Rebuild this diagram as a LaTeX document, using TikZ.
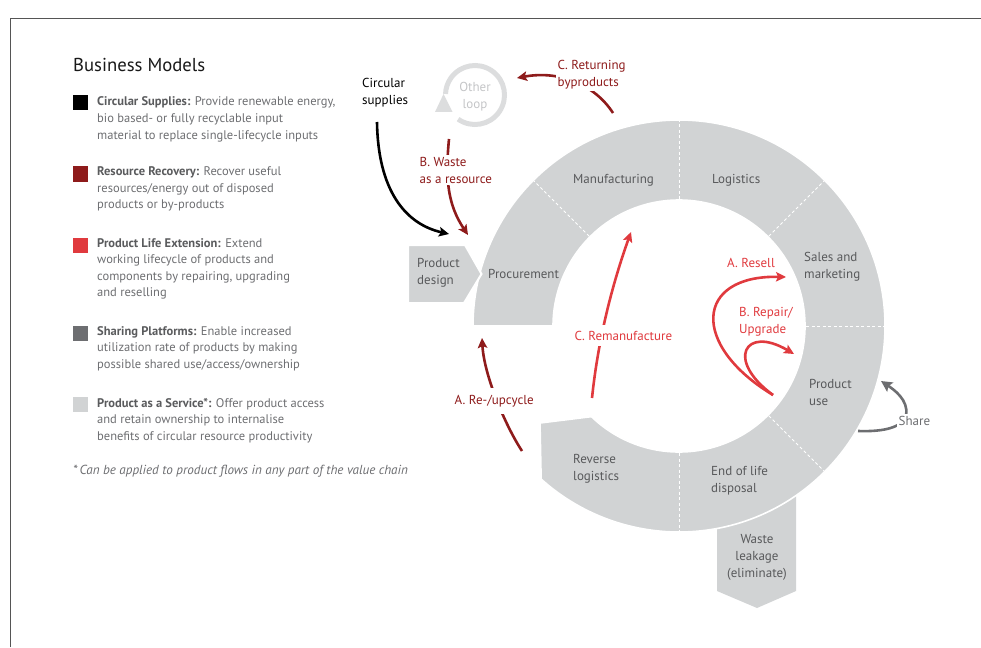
\documentclass[tikz,border=0pt]{standalone}
\usepackage{fontspec}
\setmainfont{PT Sans}
\usetikzlibrary{arrows.meta}

\definecolor{ringgray}{HTML}{D1D3D4}
\definecolor{textgray}{HTML}{58595B}
\definecolor{leggray}{HTML}{6D6E71}
\definecolor{leghead}{HTML}{5A5B5D}
\definecolor{rrdark}{HTML}{8E1B1B}
\definecolor{plered}{HTML}{E03A3E}
\definecolor{sharegray}{HTML}{6D6E71}
\definecolor{loopgray}{HTML}{DCDDDE}
\definecolor{looptext}{HTML}{C4C5C7}
\definecolor{framegray}{HTML}{555555}

\begin{document}
% multi-line nodes are placed by the baseline of their last line
\begin{tikzpicture}[x=1pt, y=-1pt,
  flow/.style={line width=2.6pt, -{Stealth[length=10pt,width=9.5pt,inset=2pt]}},
  ringlabel/.style={font=\fontsize{13}{17}\selectfont, text=textgray, align=left, inner sep=0pt, anchor=base west},
  legtext/.style={font=\fontsize{12.5}{16.6}\selectfont, text=leggray, align=left, inner sep=0pt, anchor=base west},
  legsq/.style={minimum size=15pt, inner sep=0pt, outer sep=0pt},
  flowlabel/.style={font=\fontsize{13}{17}\selectfont, align=left, fill=white, inner sep=1.5pt, anchor=base west},
]
\useasboundingbox (0,0) rectangle (981,647);

% frame
\draw[framegray, line width=1.5pt] (10.5,647) -- (10.5,18.5) -- (981,18.5);

% ---------------- legend ----------------
\node[anchor=base west, inner sep=0pt, font=\fontsize{18.7}{22}\selectfont, text=black!90] (title) at (73,72) {Business Models};

\node[legsq, fill=black]     (sq1) at (80.5,103) {};
\node[legsq, fill=rrdark]    (sq2) at (80.5,174) {};
\node[legsq, fill=plered]    (sq3) at (80.5,245.5) {};
\node[legsq, fill=sharegray] (sq4) at (80.5,333) {};
\node[legsq, fill=ringgray]  (sq5) at (80.5,404.5) {};

\node[legtext] (lg1) at (97,139.2) {\textcolor{leghead}{\bfseries Circular Supplies:} Provide renewable energy,\\bio based- or fully recyclable input\\material to replace single-lifecycle inputs};
\node[legtext] (lg2) at (97,208.7) {\textcolor{leghead}{\bfseries Resource Recovery:} Recover useful\\resources/energy out of disposed\\products or by-products};
\node[legtext] (lg3) at (97,296.8) {\textcolor{leghead}{\bfseries Product Life Extension:} Extend\\working lifecycle of products and\\components by repairing, upgrading\\and reselling};
\node[legtext] (lg4) at (97,368.2) {\textcolor{leghead}{\bfseries Sharing Platforms:} Enable increased\\utilization rate of products by making\\possible shared use/access/ownership};
\node[legtext] (lg5) at (97,440.2) {\textcolor{leghead}{\bfseries Product as a Service*:} Offer product access\\and retain ownership to internalise\\benefits of circular resource productivity};
\node[legtext, font=\fontsize{13.1}{16.6}\selectfont\itshape] (note) at (73,474) {*\,Can be applied to product flows in any part of the value chain};

% ---------------- value chain ring ----------------
\coordinate (C) at (679,326);

% waste leakage arrow (sits under the ring)
\fill[ringgray] (717,500) -- (717,591) -- (757,608) -- (796,591) -- (796,480) -- cycle;

% ring, open between procurement and reverse logistics
\filldraw[fill=ringgray, draw=white, line width=1.6pt]
  (473,326) arc[start angle=180, end angle=492, radius=206]
  -- (540,423) -- ([shift={(C)}]134:126)
  arc[start angle=494, end angle=180, radius=126] -- cycle;

% segment dividers
\foreach \a in {225,270,315,0,45,90}
  \draw[white, line width=0.9pt, dash pattern=on 3pt off 2.5pt] ([shift={(C)}]\a:127) -- ([shift={(C)}]\a:205);

% product design arrow
\filldraw[fill=ringgray, draw=white, line width=2pt] (408,245) -- (465,245) -- (481.5,274) -- (464,303) -- (408,303) -- cycle;

% ring texts
\node[ringlabel] (design) at (417,284) {Product\\design};
\node[ringlabel] (proc) at (488,278) {Procurement};
\node[ringlabel] (manu) at (573,183) {Manufacturing};
\node[ringlabel] (logi) at (712,183) {Logistics};
\node[ringlabel] (sales) at (804,278) {Sales and\\marketing};
\node[ringlabel] (use) at (809,405) {Product\\use};
\node[ringlabel] (eol) at (711,492) {End of life\\disposal};
\node[ringlabel] (rev) at (573,480) {Reverse\\logistics};
\node[ringlabel, align=center, anchor=base] (waste) at (757,577) {Waste\\leakage\\(eliminate)};

% ---------------- other loop ----------------
\draw[loopgray, line width=5pt] ([shift={(475,95)}]125:29.5) arc[start angle=125, end angle=-178, radius=29.5];
\fill[loopgray] (443.5,94) -- (452.5,112) -- (435,112) -- cycle;
\node[font=\fontsize{13}{16.5}\selectfont, text=looptext, align=center, anchor=base, inner sep=0pt] (loop) at (475,108.5) {Other\\loop};

% ---------------- flows ----------------
\node[font=\fontsize{13}{16.5}\selectfont, text=black, align=left, anchor=base west, inner sep=0pt] (supp) at (362,104.5) {Circular\\supplies};
\coordinate (s0) at (377,122);
\coordinate (s1) at (449,234);
\draw[flow, black] (s0) .. controls (378,190) and (405,224) .. (s1);

% B. waste as a resource
\coordinate (w0) at (449,139);
\coordinate (w1) at (468,235);
\draw[flow, rrdark] (w0) .. controls (445,180) and (448,205) .. (w1);
\node[flowlabel, text=rrdark] (wlab) at (418,183) {B. Waste\\as a resource};

% C. returning byproducts
\coordinate (r0) at (613,113);
\coordinate (r1) at (517,78);
\draw[flow, rrdark] (r0) .. controls (595,85) and (560,70) .. (r1);
\node[flowlabel, text=rrdark] (rlab) at (556,87) {C. Returning\\byproducts};

% A. re-/upcycle
\coordinate (u0) at (522,451);
\coordinate (u1) at (482,338);
\draw[flow, rrdark] (u0) .. controls (505,425) and (484,375) .. (u1);
\node[flowlabel, text=rrdark, inner ysep=7pt] (ulab) at (453,404) {A. Re-/upcycle};

% C. remanufacture
\coordinate (m0) at (592,398);
\coordinate (m1) at (631,232);
\draw[flow, plered] (m0) .. controls (598,340) and (612,285) .. (m1);
\node[flowlabel, text=plered, inner ysep=6pt] (mlab) at (573,340) {C. Remanufacture};

% A. resell and B. repair/upgrade
\coordinate (p0) at (773,395);
\coordinate (p1) at (786,277);
\coordinate (p2) at (794,354);
\draw[flow, plered] (p0) .. controls (690,345) and (695,275) .. (p1);
\draw[flow, plered] (p0) .. controls (725,360) and (745,325) .. (p2);
\node[flowlabel, text=plered, fill=none, inner sep=0pt] (slab) at (727,267) {A. Resell};
\node[flowlabel, text=plered, fill=none, inner sep=0pt] (plab) at (739,333) {B. Repair/\\Upgrade};

% share
\coordinate (h0) at (858,431);
\coordinate (h1) at (881,381);
\draw[flow, sharegray, -{Stealth[length=11pt,width=11pt,inset=2pt]}] (h0) .. controls (885,432) and (903,427) .. (906,415) .. controls (909,400) and (893,389) .. (h1);
\node[flowlabel, text=sharegray] (hlab) at (897,425) {Share};

\end{tikzpicture}
\end{document}
